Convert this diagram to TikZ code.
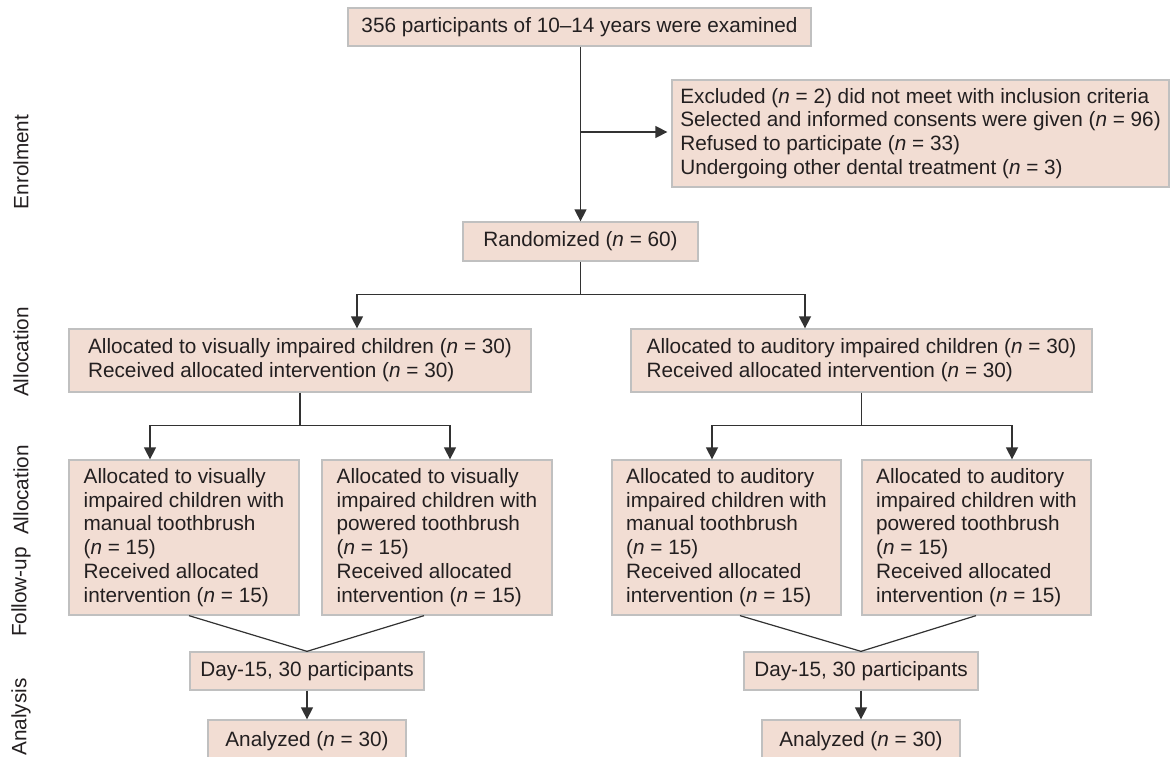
\documentclass[tikz,border=0pt]{standalone}
\usepackage{fontspec}
\setmainfont{Liberation Sans}
\usetikzlibrary{arrows.meta,calc}
\definecolor{boxfill}{RGB}{242,221,211}
\definecolor{boxline}{RGB}{192,192,192}
\definecolor{linecol}{RGB}{50,50,50}
\definecolor{txt}{RGB}{35,31,32}
\begin{document}
\begin{tikzpicture}[x=1pt,y=-1pt,
  box/.style={draw=boxline, line width=1.3pt, fill=boxfill, align=left, inner xsep=2pt, inner ysep=2pt, text=txt, font=\fontsize{20.75}{23.8}\selectfont},
  conn/.style={draw=linecol, line width=1.5pt},
  arr/.style={conn, -{Triangle[length=12pt,width=12pt]}},
  side/.style={rotate=90, text=txt, font=\fontsize{20.75}{24}\selectfont}]
\useasboundingbox[fill=white] (0,0) rectangle (1171,757);

% side labels
\node[side] (lab1) at (21,162) {Enrolment};
\node[side] (lab2) at (21,352) {Allocation};
\node[side] (lab3) at (21,490) {Allocation};
\node[side] (lab4) at (21,592) {Follow-up};
\node[side] (lab5) at (21,717) {Analysis};

% boxes
\node[box, minimum width=463pt, minimum height=38pt] (top) at (579.5,27) {356 participants of 10–14 years were examined};
\node[box, minimum width=497pt, minimum height=107pt] (excl) at (920.5,133.5) {Excluded (\textit{n} = 2) did not meet with inclusion criteria\\Selected and informed consents were given (\textit{n} = 96)\\Refused to participate (\textit{n} = 33)\\Undergoing other dental treatment (\textit{n} = 3)};
\node[box, minimum width=235pt, minimum height=39pt] (rand) at (580.5,241.5) {Randomized (\textit{n} = 60)};

\node[box, minimum width=462pt, minimum height=63pt] (allocL) at (300,360.5) {Allocated to visually impaired children (\textit{n} = 30)\\Received allocated intervention (\textit{n} = 30)};
\node[box, minimum width=461pt, minimum height=63pt] (allocR) at (861.5,360.5) {Allocated to auditory impaired children (\textit{n} = 30)\\Received allocated intervention (\textit{n} = 30)};

\node[box, minimum width=230pt, minimum height=155pt] (b1) at (184,537.5) {Allocated to visually\\impaired children with\\manual toothbrush\\(\textit{n} = 15)\\Received allocated\\intervention (\textit{n} = 15)};
\node[box, minimum width=230pt, minimum height=155pt] (b2) at (437,537.5) {Allocated to visually\\impaired children with\\powered toothbrush\\(\textit{n} = 15)\\Received allocated\\intervention (\textit{n} = 15)};
\node[box, minimum width=229pt, minimum height=155pt] (b3) at (726.5,537.5) {Allocated to auditory\\impaired children with\\manual toothbrush\\(\textit{n} = 15)\\Received allocated\\intervention (\textit{n} = 15)};
\node[box, minimum width=229pt, minimum height=155pt] (b4) at (976.5,537.5) {Allocated to auditory\\impaired children with\\powered toothbrush\\(\textit{n} = 15)\\Received allocated\\intervention (\textit{n} = 15)};

\node[box, minimum width=234pt, minimum height=38pt] (d1) at (307,671) {Day-15, 30 participants};
\node[box, minimum width=234pt, minimum height=38pt] (d2) at (861,671) {Day-15, 30 participants};
\node[box, minimum width=198pt, minimum height=42pt] (a1) at (307,741) {Analyzed (\textit{n} = 30)};
\node[box, minimum width=198pt, minimum height=42pt] (a2) at (861,741) {Analyzed (\textit{n} = 30)};

% connectors
\draw[arr] (rand.north |- top.south) -- (rand.north);
\coordinate (j0) at ($(rand.north |- excl.west)+(0,-1.5)$);
\draw[arr] (j0) -- ([xshift=-4pt,yshift=1.5pt]excl.west);

\coordinate (s1) at ($(rand.south)+(0,33)$);
\draw[conn] (rand.south) -- (s1);
\draw[arr] (s1) -| ([xshift=57pt]allocL.north);
\draw[arr] (s1) -| ([xshift=-56.5pt]allocR.north);

\coordinate (s2) at ($(allocL.south)+(0,33)$);
\draw[conn] (allocL.south) -- (s2);
\draw[arr] (s2) -| ([xshift=-34pt]b1.north);
\draw[arr] (s2) -| ([xshift=13pt]b2.north);

\coordinate (s3) at ($(allocR.south)+(0,33)$);
\draw[conn] (allocR.south) -- (s3);
\draw[arr] (s3) -| ([xshift=-14.5pt]b3.north);
\draw[arr] (s3) -| ([xshift=35.5pt]b4.north);

\draw[conn, line width=1.2pt] ([xshift=5pt]b1.south) -- (d1.north) -- ([xshift=-13pt]b2.south);
\draw[conn, line width=1.2pt] ([xshift=13.5pt]b3.south) -- (d2.north) -- ([xshift=-0.5pt]b4.south);

\draw[arr] (d1) -- (a1);
\draw[arr] (d2) -- (a2);
\end{tikzpicture}
\end{document}
